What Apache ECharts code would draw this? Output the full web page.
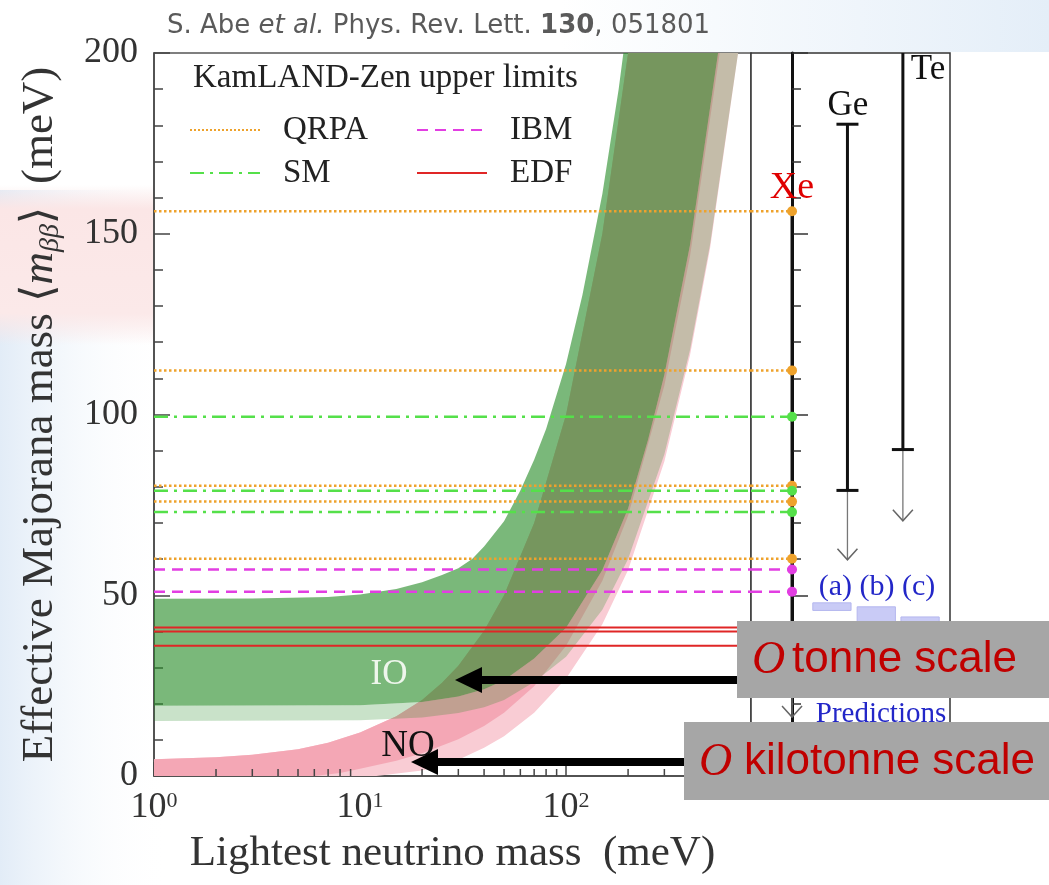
<!DOCTYPE html>
<html style="height: 100%">
<head>
	<meta charset="utf-8">
</head>
<body style="height: 100%; margin: 0; background: #fff">
<div id="container" style="width: 1049px; height: 885px"></div>
<script type="text/javascript" src="https://cdn.jsdelivr.net/npm/echarts@6/dist/echarts.min.js"></script>
<script type="text/javascript">
    var SERIF = '"Liberation Serif", "DejaVu Serif", serif';
    var SANS = '"DejaVu Sans", sans-serif';

    // KamLAND-Zen upper limits on <m_bb> (meV), one value per nuclear matrix element
    var qrpaLimits = [156.2, 112.2, 80.3, 75.9, 60.1];
    var smLimits = [99.4, 78.9, 73.0];
    var ibmLimits = [57.1, 51.0];
    var edfLimits = [41.1, 40.0, 36.0];

    // allowed regions, [lightest mass, m_bb] in meV
    var ioUpper = [[0.7, 49], [1, 49], [3, 49.1], [7, 49.5], [10, 50.2], [15, 51.7], [20, 53.6], [25, 55.6],
        [30, 57.5], [35, 60], [40, 63.5], [50, 70.5], [60, 79], [70, 87.5], [80, 96], [100, 114],
        [120, 133], [150, 161], [180, 190], [200, 210], [260, 270]];
    var ioLower = [[0.7, 19.4], [1, 19.4], [10, 19.6], [20, 20.5], [30, 22], [40, 24], [50, 26.5],
        [70, 32.5], [100, 41], [150, 57], [200, 74], [250, 93], [300, 111], [400, 147], [550, 201], [800, 290]];
    var ioOuterLower = [[0.7, 15.2], [1, 15.2], [10, 15.4], [20, 16.2], [30, 17.4], [40, 19], [50, 21],
        [70, 26], [100, 33], [150, 46], [200, 60], [300, 89], [400, 118], [500, 147], [700, 204], [800, 233]];
    var noUpper = [[0.7, 4.4], [1, 4.6], [2, 5.2], [3, 5.9], [5, 7.4], [7, 9.2], [10, 12], [15, 16.5],
        [20, 21], [25, 25.8], [30, 30.5], [40, 40.2], [50, 50], [70, 70], [100, 100], [150, 150],
        [200, 200], [260, 260]];
    var noLower = [[0.7, 0], [6, 0], [8, 0.8], [10, 2], [15, 4.2], [20, 6.3], [30, 10.2], [40, 13.8],
        [50, 17.5], [70, 24.8], [100, 36], [150, 54], [200, 72], [300, 108], [400, 144], [560, 201], [800, 287]];
    var noOuterLower = [[0.7, 0], [12, 0], [20, 1.5], [30, 4.5], [40, 7.8], [50, 11], [70, 17.5],
        [100, 27], [150, 42], [200, 57], [300, 87], [400, 116.5], [500, 146], [700, 204], [800, 233]];

    // minor ticks of the log axis
    var minorTicksX = [2, 3, 4, 5, 6, 7, 8, 9, 20, 30, 40, 50, 60, 70, 80, 90, 200, 300, 400, 500, 600, 700];

    // right panel: other isotopes
    var isotopes = ['Xe', 'Ge', 'Te'];
    var isoTop = [156.2, 180.3, 200];
    var isoBottom = [36.0, 79.0, 90.3];
    var isoArrow = [16.3, 59.8, 70.6];
    var isoCap = [false, true, false];
    var isoBar = [false, true, true];

    // theory predictions (a), (b), (c)
    var predNames = ['(a)', '(b)', '(c)'];
    var predTop = [47.9, 46.8, 44.0];
    var predBottom = [45.8, 38, 38];

    var xMax = 790;
    var panelMin = -0.74, panelMax = 2.85;
    var predX = [0.72, 1.52, 2.31];

    var dom = document.getElementById('container');
    var myChart = echarts.init(dom);

    function hlines(vals, x0, x1) {
        var d = [];
        vals.forEach(function (v) {
            d.push([x0, v], [x1, v], [x1, '-']);
        });
        return d;
    }

    function band(upper, lower, color, z) {
        return {
            type: 'custom', xAxisIndex: 0, yAxisIndex: 0, clip: true, silent: true, z: z,
            data: [[1, 0]],
            renderItem: function (params, api) {
                var pts = upper.map(function (p) { return api.coord(p); })
                    .concat(lower.slice().reverse().map(function (p) { return api.coord(p); }));
                return {type: 'polygon', shape: {points: pts}, style: {fill: color}};
            }
        };
    }

    var models = [
        {name: 'QRPA', vals: qrpaLimits, color: '#eea22c', type: 'dotted', width: 2.5},
        {name: 'SM', vals: smLimits, color: '#55e04a', type: [14, 6, 3, 6], width: 2.5},
        {name: 'IBM', vals: ibmLimits, color: '#e23ee2', type: [11, 7], width: 2.5},
        {name: 'EDF', vals: edfLimits, color: '#e02626', type: 'solid', width: 2}
    ];

    var series = [];
    models.forEach(function (m) {
        series.push({
            name: m.name, type: 'line', xAxisIndex: 0, yAxisIndex: 0, z: 5,
            symbol: 'none', silent: true, connectNulls: false,
            lineStyle: {color: m.color, type: m.type, width: m.width},
            itemStyle: {color: m.color, opacity: 0},
            data: hlines(m.vals, 1, xMax)
        });
    });
    models.forEach(function (m) {
        series.push({
            name: m.name, type: 'line', xAxisIndex: 1, yAxisIndex: 1, z: 5,
            symbol: 'none', silent: true, connectNulls: false,
            lineStyle: {color: m.color, type: m.type, width: m.width},
            itemStyle: {color: m.color, opacity: 0},
            data: hlines(m.vals, panelMin, 0)
        });
    });

    series.push(band(noUpper, noOuterLower, '#f9ccd4', 1));
    series.push(band(noUpper, noLower, '#f4a7b5', 2));
    series.push(band(ioLower, ioOuterLower, 'rgba(40,140,40,0.25)', 3));
    series.push(band(ioUpper, ioLower, 'rgba(40,140,40,0.62)', 3));

    // minor ticks on the log axis
    series.push({
        type: 'custom', xAxisIndex: 0, yAxisIndex: 0, z: 10, silent: true,
        data: minorTicksX.map(function (m) { return [m, 0]; }),
        renderItem: function (params, api) {
            var p = api.coord([api.value(0), 0]);
            return {type: 'line', shape: {x1: p[0], y1: p[1], x2: p[0], y2: p[1] - 7},
                style: {stroke: '#444', lineWidth: 1.5}};
        }
    });

    // isotope limit columns
    series.push({
        type: 'custom', xAxisIndex: 1, yAxisIndex: 1, z: 6, silent: true, clip: true,
        data: isotopes.map(function (n, i) { return [i, isoTop[i]]; }),
        renderItem: function (params, api) {
            var i = params.dataIndex;
            var t = api.coord([i, isoTop[i]]);
            var b = api.coord([i, isoBottom[i]]);
            var e = api.coord([i, isoArrow[i]]);
            var kids = [
                {type: 'line', shape: {x1: t[0], y1: t[1], x2: b[0], y2: b[1]}, style: {stroke: '#111', lineWidth: 3}},
                {type: 'line', shape: {x1: b[0], y1: b[1], x2: e[0], y2: e[1]}, style: {stroke: '#777', lineWidth: 1.3}},
                {type: 'polyline', shape: {points: [[e[0] - 10, e[1] - 11], [e[0], e[1]], [e[0] + 10, e[1] - 11]]},
                    style: {stroke: '#666', lineWidth: 1.5, fill: null}}
            ];
            if (isoCap[i]) {
                kids.push({type: 'line', shape: {x1: t[0] - 11, y1: t[1], x2: t[0] + 11, y2: t[1]}, style: {stroke: '#111', lineWidth: 3}});
            }
            if (isoBar[i]) {
                kids.push({type: 'line', shape: {x1: b[0] - 11, y1: b[1], x2: b[0] + 11, y2: b[1]}, style: {stroke: '#111', lineWidth: 3}});
            }
            return {type: 'group', children: kids};
        }
    });

    // prediction boxes
    series.push({
        type: 'custom', xAxisIndex: 1, yAxisIndex: 1, z: 4, silent: true,
        data: predNames.map(function (n, i) { return [predX[i], predTop[i]]; }),
        renderItem: function (params, api) {
            var i = params.dataIndex;
            var a = api.coord([predX[i] - 0.345, predTop[i]]);
            var b = api.coord([predX[i] + 0.345, predBottom[i]]);
            return {type: 'rect', shape: {x: a[0], y: a[1], width: b[0] - a[0], height: b[1] - a[1]},
                style: {fill: '#c9cbf6', stroke: '#b4b7ee', lineWidth: 1}};
        }
    });

    // Xe limit markers
    models.forEach(function (m) {
        series.push({
            name: m.name + ' Xe', type: 'scatter', xAxisIndex: 1, yAxisIndex: 1, z: 8, silent: true,
            symbolSize: 10, itemStyle: {color: m.color, opacity: 1},
            data: m.vals.map(function (v) { return [0, v]; })
        });
    });

    var legendText = {fontFamily: SERIF, fontSize: 33, color: '#222', padding: [0, 0, 0, 18], lineHeight: 34};

    var option = {
        animation: false,
        backgroundColor: '#ffffff',
        title: [{
            text: 'S. Abe {i|et al.} Phys. Rev. Lett. {b|130}, 051801',
            left: 162, top: 8,
            textStyle: {
                fontFamily: SANS, fontSize: 26, fontWeight: 'normal', color: '#5a5a5a',
                rich: {
                    i: {fontFamily: SANS, fontSize: 26, fontStyle: 'italic', color: '#5a5a5a'},
                    b: {fontFamily: SANS, fontSize: 26, fontWeight: 'bold', color: '#5a5a5a'}
                }
            }
        }, {
            text: 'KamLAND-Zen upper limits',
            left: 188, top: 57,
            textStyle: {fontFamily: SERIF, fontSize: 33, fontWeight: 'normal', color: '#222'}
        }],
        legend: [{
            data: ['QRPA', 'SM'], orient: 'vertical', left: 184, top: 108,
            itemWidth: 70, itemHeight: 14, itemGap: 9, selectedMode: false,
            itemStyle: {opacity: 0},
            textStyle: legendText
        }, {
            data: ['IBM', 'EDF'], orient: 'vertical', left: 411, top: 108,
            itemWidth: 70, itemHeight: 14, itemGap: 9, selectedMode: false,
            itemStyle: {opacity: 0},
            textStyle: legendText
        }],
        grid: [{
            left: 154, right: 298, top: 53, bottom: 109,
            show: true, backgroundColor: '#fff', borderColor: '#555', borderWidth: 1.5
        }, {
            left: 751, right: 99, top: 53, bottom: 109,
            show: true, backgroundColor: '#fff', borderColor: '#333', borderWidth: 1.5
        }],
        xAxis: [{
            type: 'log', gridIndex: 0, min: 1, max: xMax, logBase: 10,
            name: 'Lightest neutrino mass  (meV)', nameLocation: 'middle', nameGap: 56,
            nameTextStyle: {fontFamily: SERIF, fontSize: 43, color: '#333'},
            axisLine: {lineStyle: {color: '#444', width: 1.5}},
            axisTick: {inside: true, length: 14, lineStyle: {color: '#444', width: 1.5}},
            splitLine: {show: false},
            axisLabel: {
                margin: 14, showMaxLabel: false,
                formatter: function (v) {
                    var l = Math.log10(v);
                    if (Math.abs(l - Math.round(l)) > 1e-6) return '';
                    return '{b|10}{s|' + Math.round(l) + '}';
                },
                rich: {
                    b: {fontFamily: SERIF, fontSize: 36, color: '#333'},
                    s: {fontFamily: SERIF, fontSize: 22, color: '#333', verticalAlign: 'top', padding: [0, 0, 14, 0]}
                }
            }
        }, {
            type: 'value', gridIndex: 1, min: panelMin, max: panelMax, show: false
        }],
        yAxis: [{
            type: 'value', gridIndex: 0, min: 0, max: 200, interval: 50,
            name: '{n|Effective Majorana mass \u27e8}{i|m}{s|\u03b2\u03b2}{n|\u27e9  (meV)}',
            nameLocation: 'middle', nameGap: 89, nameRotate: 90,
            nameTextStyle: {
                rich: {
                    n: {fontFamily: SERIF, fontSize: 45, color: '#333', lineHeight: 50},
                    i: {fontFamily: SERIF, fontSize: 45, fontStyle: 'italic', color: '#333', lineHeight: 50},
                    s: {fontFamily: SERIF, fontSize: 28, fontStyle: 'italic', color: '#333', lineHeight: 50, verticalAlign: 'bottom'}
                }
            },
            axisLine: {lineStyle: {color: '#444', width: 1.5}},
            axisTick: {inside: true, length: 16, lineStyle: {color: '#444', width: 1.5}},
            minorTick: {show: true, splitNumber: 5, length: 9, lineStyle: {color: '#444', width: 1.5}},
            splitLine: {show: false},
            axisLabel: {margin: 16, fontFamily: SERIF, fontSize: 36, color: '#333'}
        }, {
            type: 'value', gridIndex: 1, min: 0, max: 200, interval: 50,
            axisLine: {lineStyle: {color: '#111', width: 3}},
            axisTick: {inside: true, length: 16, lineStyle: {color: '#333', width: 1.5}},
            minorTick: {show: true, splitNumber: 5, length: 9, lineStyle: {color: '#333', width: 1.5}},
            splitLine: {show: false},
            axisLabel: {show: false}
        }],
        graphic: [
            {type: 'rect', z: -10, shape: {x: 0, y: 0, width: 170, height: 885},
                style: {fill: new echarts.graphic.LinearGradient(0, 0, 1, 0, [
                    {offset: 0, color: '#e2ecf7'}, {offset: 1, color: 'rgba(255,255,255,0)'}])}},
            {type: 'rect', z: -9, shape: {x: 0, y: 0, width: 170, height: 190},
                style: {fill: '#ffffff'}},
            {type: 'rect', z: -8, shape: {x: 0, y: 185, width: 170, height: 160},
                style: {fill: new echarts.graphic.LinearGradient(0, 0, 0, 1, [
                    {offset: 0, color: 'rgba(250,228,228,0)'}, {offset: 0.15, color: '#fbe6e6'},
                    {offset: 0.8, color: '#fbe9e9'}, {offset: 1, color: 'rgba(250,228,228,0)'}])}},
            {type: 'rect', z: -8, shape: {x: 560, y: 0, width: 489, height: 52},
                style: {fill: new echarts.graphic.LinearGradient(0, 0, 1, 0, [
                    {offset: 0, color: 'rgba(230,240,249,0)'}, {offset: 1, color: '#e4eef8'}])}},
            {type: 'text', z: 50, style: {text: 'IO', x: 389, y: 675, textAlign: 'center', textVerticalAlign: 'middle',
                fill: '#eef6ec', font: '35px ' + SERIF}},
            {type: 'text', z: 50, style: {text: 'NO', x: 408, y: 746, textAlign: 'center', textVerticalAlign: 'middle',
                fill: '#111', font: '37px ' + SERIF}},
            {type: 'text', z: 50, style: {text: 'Xe', x: 792, y: 188, textAlign: 'center', textVerticalAlign: 'middle',
                fill: '#e00000', font: '38px ' + SERIF}},
            {type: 'text', z: 50, style: {text: 'Ge', x: 848, y: 106, textAlign: 'center', textVerticalAlign: 'middle',
                fill: '#111', font: '35px ' + SERIF}},
            {type: 'text', z: 50, style: {text: 'Te', x: 928, y: 70, textAlign: 'center', textVerticalAlign: 'middle',
                fill: '#111', font: '35px ' + SERIF}},
            {type: 'text', z: 50, style: {text: '(a) (b) (c)', x: 877, y: 587, textAlign: 'center', textVerticalAlign: 'middle',
                fill: '#2327c8', font: '30px ' + SERIF}},
            {type: 'text', z: 50, style: {text: 'Predictions', x: 881, y: 714, textAlign: 'center', textVerticalAlign: 'middle',
                fill: '#2327c8', font: '29px ' + SERIF}},
            // arrows
            {type: 'rect', z: 90, shape: {x: 478, y: 676, width: 262, height: 8}, style: {fill: '#000'}},
            {type: 'polygon', z: 90, shape: {points: [[455, 680], [482, 667], [482, 693]]}, style: {fill: '#000'}},
            {type: 'rect', z: 90, shape: {x: 434, y: 758, width: 252, height: 8}, style: {fill: '#000'}},
            {type: 'polygon', z: 90, shape: {points: [[411, 762], [438, 749], [438, 775]]}, style: {fill: '#000'}},
            // grey boxes
            {type: 'rect', z: 100, shape: {x: 737, y: 621, width: 312, height: 77}, style: {fill: '#a6a6a6'}},
            {type: 'text', z: 101, style: {text: 'O', x: 752, y: 661, textVerticalAlign: 'middle',
                fill: '#c00000', font: 'italic 46px ' + SERIF}},
            {type: 'text', z: 101, style: {text: 'tonne scale', x: 792, y: 660, textVerticalAlign: 'middle',
                fill: '#c00000', font: '44px "Liberation Sans", sans-serif'}},
            {type: 'rect', z: 100, shape: {x: 684, y: 722, width: 365, height: 78}, style: {fill: '#a6a6a6'}},
            {type: 'text', z: 101, style: {text: 'O', x: 699, y: 763, textVerticalAlign: 'middle',
                fill: '#c00000', font: 'italic 46px ' + SERIF}},
            {type: 'text', z: 101, style: {text: 'kilotonne scale', x: 744, y: 762, textVerticalAlign: 'middle',
                fill: '#c00000', font: '44px "Liberation Sans", sans-serif'}}
        ],
        series: series
    };

    myChart.setOption(option);
</script>
</body>
</html>
